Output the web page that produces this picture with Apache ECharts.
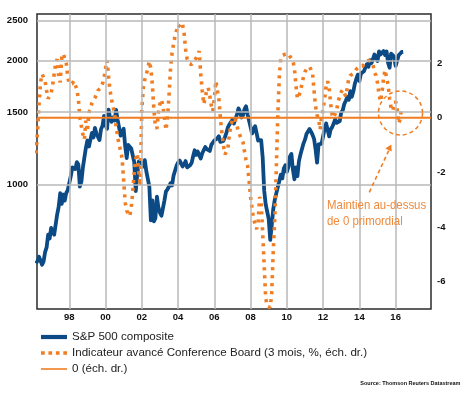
<!DOCTYPE html>
<html>
<head>
<meta charset="utf-8">
<script src="https://cdn.jsdelivr.net/npm/echarts@6/dist/echarts.min.js"></script>
<style>html,body{margin:0;padding:0;background:#fff}#c{width:470px;height:394px}</style>
</head>
<body>
<div id="c"></div>
<script>
// ---- data (monthly, first value = March 1996) ----
const firstYear = 1996, firstMonth = 3;
const seriesNames = ['S&P 500 composite', 'Indicateur avancé Conference Board (3 mois, %, éch. dr.)', '0 (éch. dr.)'];
const spx = [
  645, 654, 669, 671, 640, 652, 687, 705, 757, 741,
  786, 791, 757, 801, 848, 885, 954, 899, 947, 915, 955, 970,
  980, 1049, 1102, 1112, 1091, 1134, 1121, 990, 1017, 1099, 1164, 1229,
  1280, 1238, 1286, 1335, 1302, 1373, 1329, 1320, 1283, 1363, 1389, 1469,
  1394, 1366, 1520, 1452, 1421, 1455, 1431, 1518, 1437, 1429, 1315, 1320,
  1366, 1240, 1160, 1249, 1256, 1224, 1211, 1134, 965, 1060, 1139, 1148,
  1130, 1107, 1147, 1077, 1067, 990, 820, 916, 815, 830, 936, 880,
  856, 841, 848, 917, 964, 975, 990, 1008, 996, 1051, 1058, 1112,
  1131, 1145, 1126, 1107, 1121, 1141, 1102, 1104, 1115, 1130, 1174, 1212,
  1181, 1204, 1181, 1157, 1192, 1191, 1234, 1220, 1229, 1207, 1249, 1248,
  1280, 1281, 1295, 1311, 1270, 1270, 1277, 1304, 1336, 1378, 1401, 1418,
  1438, 1407, 1421, 1482, 1531, 1503, 1455, 1474, 1527, 1549, 1481, 1468,
  1379, 1331, 1323, 1386, 1400, 1280, 1267, 1283, 1165, 969, 896, 903,
  826, 735, 798, 873, 919, 919, 987, 1021, 1057, 1036, 1096, 1115,
  1074, 1104, 1169, 1187, 1089, 1031, 1102, 1049, 1141, 1183, 1181, 1258,
  1286, 1327, 1326, 1364, 1345, 1321, 1292, 1219, 1131, 1253, 1247, 1258,
  1312, 1366, 1408, 1398, 1310, 1362, 1379, 1407, 1441, 1412, 1416, 1426,
  1498, 1515, 1569, 1598, 1631, 1606, 1686, 1633, 1682, 1757, 1806, 1848,
  1783, 1859, 1872, 1884, 1924, 1960, 1931, 2003, 1972, 2018, 2068, 2059,
  1995, 2105, 2068, 2086, 2107, 2063, 2104, 1972, 1920, 2079, 2080, 2044,
  1940, 1932, 2060, 2065, 2097, 2099
];
const lei = [
  -1.3, -0.5, 0.5, 1.3, 1.6, 1.62, 1.35, 1.0, 0.7, 0.65,
  0.9, 1.2, 1.6, 2.0, 2.15, 1.5, 1.3, 2.2, 2.35, 2.3, 2.0, 1.5,
  1.25, 1.2, 1.25, 1.35, 1.3, 1.05, 0.7, 0.0, -0.3, -0.6, -0.8, -0.1,
  -0.5, 0.2, 0.3, 0.55, 0.65, 0.73, 0.85, 1.0, 1.05, 1.1, 1.25, 1.45,
  1.8, 2.1, 1.5, 1.0, 0.67, 0.4, 0.15, -0.3, -0.7, -1.0, -1.2, -1.5,
  -2.3, -3.1, -3.4, -3.42, -3.6, -3.3, -2.7, -2.0, -1.5, -1.3, -2.0, -2.5,
  0.3, 1.1, 1.4, 1.6, 1.8, 2.07, 1.8, 1.2, 0.3, -0.3, -0.4, 0.2,
  0.5, 0.67, 0.42, 0.0, -0.45, 0.0, 0.8, 1.8, 2.35, 2.7, 3.0, 3.2,
  3.41, 3.35, 3.29, 3.41, 3.1, 2.5, 2.15, 2.0, 1.95, 1.95, 2.0, 2.1,
  2.19, 2.3, 2.44, 1.6, 1.0, 0.5, 0.55, 1.0, 1.1, 0.8, 0.45, 0.24,
  0.7, 1.35, 1.0, 0.7, 0.0, -0.55, -1.0, -1.34, -1.25, -1.1, -0.6, -0.25,
  -0.1, 0.0, -0.1, -0.3, -0.5, -0.65, -0.8, -0.9, -1.25, -1.55, -1.75, -2.3,
  -2.9, -3.35, -3.7, -3.9, -4.08, -3.8, -2.9, -3.1, -4.2, -5.4, -6.6, -6.9,
  -6.95, -6.95, -6.4, -4.9, -3.7, -1.9, 0.1, 1.5, 2.2, 2.28, 2.3, 2.33,
  2.38, 2.35, 2.25, 2.19, 2.1, 1.8, 1.2, 0.7, 0.67, 0.95, 1.25, 1.5,
  1.68, 1.78, 1.83, 1.87, 1.89, 1.65, 1.0, 0.42, 0.1, -0.05, -0.43, 0.05,
  0.3, 0.7, 1.16, 1.34, 1.1, 0.5, 0.1, 0.0, 0.15, 0.3, 0.6, 0.8,
  0.95, 1.03, 0.9, 0.79, 1.1, 1.45, 1.55, 1.6, 1.62, 1.68, 1.78, 1.84,
  1.89, 1.9, 1.89, 1.95, 2.0, 2.05, 2.1, 2.13, 2.05, 1.95, 1.65, 1.55,
  1.28, 0.85, 0.6, 0.95, 1.45, 1.75, 1.8, 1.2, 0.7, 0.35, 0.25, 0.49,
  0.6, 0.3, -0.2, -0.05, 0.4
];
const zeroLine = [0, 0];
const xRange = [1996.22, 2017.95];
const yearTicks = [1998, 2000, 2002, 2004, 2006, 2008, 2010, 2012, 2014, 2016];
const leftTicks = [500, 1000, 1500, 2000, 2500];
const rightTicks = [-6, -4, -2, 0, 2];
const sourceText = 'Source: Thomson Reuters Datastream';
const noteText = 'Maintien au-dessus\nde 0 primordial';

// ---- build ----
const toMonthly = vals => vals.map((v, i) => [firstYear + (firstMonth - 1 + i) / 12, v]);
const FONT = 'Arial, "Liberation Sans", sans-serif';
const BLUE = '#0b4a84', ORANGE = '#f07d22', GRID = '#b8b8b8';

const chart = echarts.init(document.getElementById('c'), null, {renderer: 'canvas'});
chart.setOption({
  animation: false,
  backgroundColor: '#fff',
  textStyle: {fontFamily: FONT},
  grid: {left: 37, top: 14, width: 394, height: 295, show: true, borderColor: '#2b2b2b', borderWidth: 1.5, backgroundColor: 'transparent', containLabel: false},
  legend: {
    orient: 'vertical', left: 41, top: 331, padding: 0, itemWidth: 26, itemHeight: 12, itemGap: 4,
    textStyle: {fontSize: 11.6, color: '#222', fontFamily: FONT},
    data: [
      {name: seriesNames[0], icon: 'path://M0,0H26V4.2H0Z'},
      {name: seriesNames[1], icon: 'path://M0,0H4V4H0Z M8,0H12V4H8Z M16,0H20V4H16Z M24,0H28V4H24Z'},
      {name: seriesNames[2], icon: 'path://M0,0H26V1.6H0Z'}
    ]
  },
  xAxis: {
    type: 'value', min: xRange[0], max: xRange[1],
    axisLine: {show: false}, axisTick: {show: false}, splitLine: {show: false},
    axisLabel: {customValues: yearTicks, formatter: v => String(Math.round(v)).slice(2), fontSize: 9.5, fontWeight: 'bold', color: '#111', margin: 3}
  },
  yAxis: [
    {type: 'log', logBase: 10, min: leftTicks[0], max: 2592,
     axisLine: {show: false}, axisTick: {show: false}, splitLine: {show: false}, axisLabel: {show: false}},
    {type: 'value', min: -7, max: 3.8, position: 'right',
     axisLine: {show: false}, axisTick: {show: false}, splitLine: {show: false},
     axisLabel: {customValues: rightTicks, fontSize: 9.5, fontWeight: 'bold', color: '#111', margin: 6}}
  ],
  series: [
    {
      name: 'grid', type: 'line', yAxisIndex: 0, z: 1, silent: true, symbol: 'none',
      lineStyle: {opacity: 0}, data: toMonthly(spx), legendHoverLink: false,
      markLine: {
        silent: true, symbol: ['none', 'none'], animation: false,
        lineStyle: {color: GRID, width: 1.5, type: 'solid'},
        label: {show: false},
        data: [
          ...leftTicks.map(v => ({yAxis: v, lineStyle: v === leftTicks[0] ? {opacity: 0} : undefined,
            label: {show: true, position: 'start', distance: 9, formatter: String(v), fontSize: 9.5, fontWeight: 'bold', color: '#111', fontFamily: FONT}})),
          ...yearTicks.map(v => ({xAxis: v}))
        ]
      }
    },
    {
      name: seriesNames[0], type: 'line', yAxisIndex: 0, z: 3, symbol: 'none', showSymbol: false,
      color: BLUE, lineStyle: {color: BLUE, width: 3.8, join: 'round'},
      data: toMonthly(spx)
    },
    {
      name: seriesNames[1], type: 'line', yAxisIndex: 1, z: 4, symbol: 'none', showSymbol: false,
      color: ORANGE, lineStyle: {color: ORANGE, width: 3.6, type: [3.1, 4.9], cap: 'butt'},
      data: toMonthly(lei)
    },
    {
      name: seriesNames[2], type: 'line', yAxisIndex: 1, z: 5, symbol: 'none', showSymbol: false,
      color: ORANGE, lineStyle: {color: ORANGE, width: 2},
      data: zeroLine.map((v, i) => [xRange[i], v])
    }
  ],
  graphic: [
    {type: 'circle', shape: {cx: 400.5, cy: 113, r: 22}, style: {fill: 'none', stroke: ORANGE, lineWidth: 1.5, lineDash: [4, 3]}, z: 10},
    {type: 'line', shape: {x1: 369.3, y1: 192.3, x2: 389, y2: 150}, style: {stroke: ORANGE, lineWidth: 1.6, lineDash: [4, 3]}, z: 10},
    {type: 'polygon', shape: {points: [[391.3, 144.5], [391.7, 151.6], [385.3, 148.6]]}, style: {fill: ORANGE}, z: 10},
    {type: 'text', x: 327, y: 197.5, scaleX: 0.88, style: {text: noteText, font: '13px ' + FONT, fill: '#f08a3c', lineHeight: 16}, z: 10},
    {type: 'text', right: 9.5, top: 380, style: {text: sourceText, font: 'bold 5.5px ' + FONT, fill: '#111'}, z: 10}
  ]
});
</script>
</body>
</html>
